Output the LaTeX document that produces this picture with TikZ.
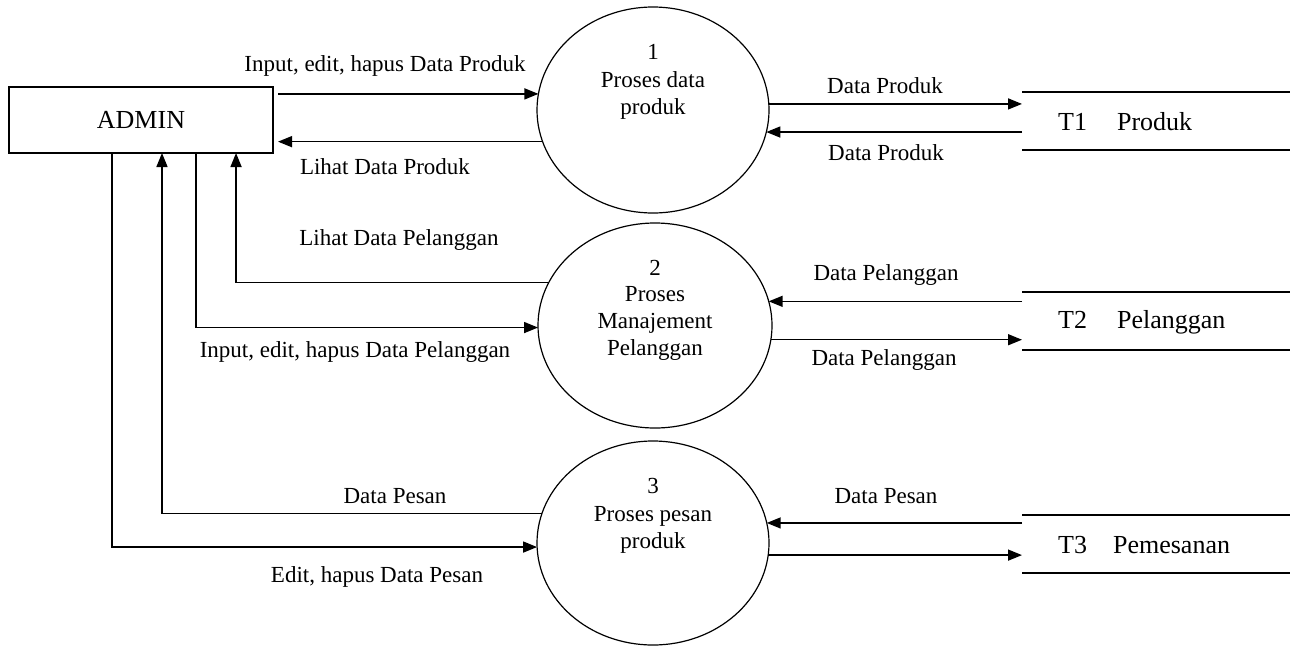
\documentclass[tikz,border=0pt]{standalone}
\usepackage{fontspec}
\setmainfont{Liberation Serif}
\usetikzlibrary{arrows.meta,shapes.geometric,calc}
\begin{document}
\begin{tikzpicture}[x=1pt,y=-1pt,
  lbl/.style={font=\fontsize{23}{27.5}\selectfont, inner sep=0pt},
  big/.style={font=\fontsize{26}{30}\selectfont, inner sep=0pt},
  flow/.style={line width=1.5pt, -{Triangle[length=14pt,width=11pt]}},
  link/.style={line width=1.5pt},
  proc/.style={ellipse, draw, line width=1.2pt, inner sep=0pt, outer sep=0pt},
  ent/.style={draw, line width=1.5pt, minimum width=264pt, minimum height=66pt, inner sep=0pt, outer sep=0pt, font=\fontsize{26}{30}\selectfont},
  store/.style={minimum width=268pt, minimum height=58pt, inner sep=0pt, outer sep=0pt},
]
\useasboundingbox (0,0) rectangle (1295,648);

% entity
\node[ent] (admin) at (141,120) {ADMIN};

% processes
\node[proc, minimum width=232pt, minimum height=206pt] (p1) at (653,110) {};
\node[proc, minimum width=234pt, minimum height=205pt] (p2) at (655,325.5) {};
\node[proc, minimum width=232pt, minimum height=204pt] (p3) at (653,543) {};
\node[lbl, align=center] (p1t) at (653,82) {1\\Proses data\\produk};
\node[lbl, align=center, font=\fontsize{23}{26.7}\selectfont] (p2t) at (655,310) {2\\Proses\\Manajement\\Pelanggan};
\node[lbl, align=center] (p3t) at (653,516) {3\\Proses pesan\\produk};

% stores
\node[store] (s1) at (1156,121) {};
\node[store] (s2) at (1156,321) {};
\node[store] (s3) at (1156,544) {};
\foreach \s in {s1,s2,s3}{
  \draw[link] (\s.north west) -- (\s.north east);
  \draw[link] (\s.south west) -- (\s.south east);
}
\node[big, anchor=west] (s1l) at (1058,122) {T1\hspace{30pt}Produk};
\node[big, anchor=west] (s2l) at (1058,322) {T2\hspace{30pt}Pelanggan};
\node[big, anchor=west] (s3l) at (1058,545) {T3\hspace{26pt}Pemesanan};

% admin <-> process 1
\draw[flow, shorten <=5pt] (admin.east |- p1.172) -- (p1.172);
\draw[flow, shorten >=5pt] (p1.196) -- (admin.east |- p1.196);
\node[lbl] (l1) at (385,66) {Input, edit, hapus Data Produk};
\node[lbl] (l2) at (385,167) {Lihat Data Produk};

% process 1 <-> store 1
\draw[flow] (p1.3) -- (p1.3 -| s1.west);
\draw[flow] (s1.west |- p1.349) -- (p1.349);
\node[lbl] (l3) at (885,86) {Data Produk};
\node[lbl] (l4) at (886,153) {Data Produk};

% admin <-> process 2
\draw[flow] (p2.158) -| ($(admin.south west)!0.860!(admin.south east)$);
\draw[flow] ($(admin.south west)!0.708!(admin.south east)$) |- (p2.181);
\node[lbl] (l5) at (399,240) {Lihat Data Pelanggan};
\node[lbl] (l6) at (355,352) {Input, edit, hapus Data Pelanggan};

% process 2 <-> store 2
\draw[flow] (s2.west |- p2.12) -- (p2.12);
\draw[flow] (p2.353) -- (p2.353 -| s2.west);
\node[lbl] (l7) at (886,275) {Data Pelanggan};
\node[lbl] (l8) at (884,360) {Data Pelanggan};

% admin <-> process 3
\draw[flow] (p3.165) -| ($(admin.south west)!0.5795!(admin.south east)$);
\draw[flow] ($(admin.south west)!0.390!(admin.south east)$) |- (p3.182);
\node[lbl] (l9) at (395,496) {Data Pesan};
\node[lbl] (l10) at (377,577) {Edit, hapus Data Pesan};

% process 3 <-> store 3
\draw[flow] (s3.west |- p3.10) -- (p3.10);
\draw[flow] (p3.354) -- (p3.354 -| s3.west);
\node[lbl] (l11) at (886,496) {Data Pesan};
\end{tikzpicture}
\end{document}
